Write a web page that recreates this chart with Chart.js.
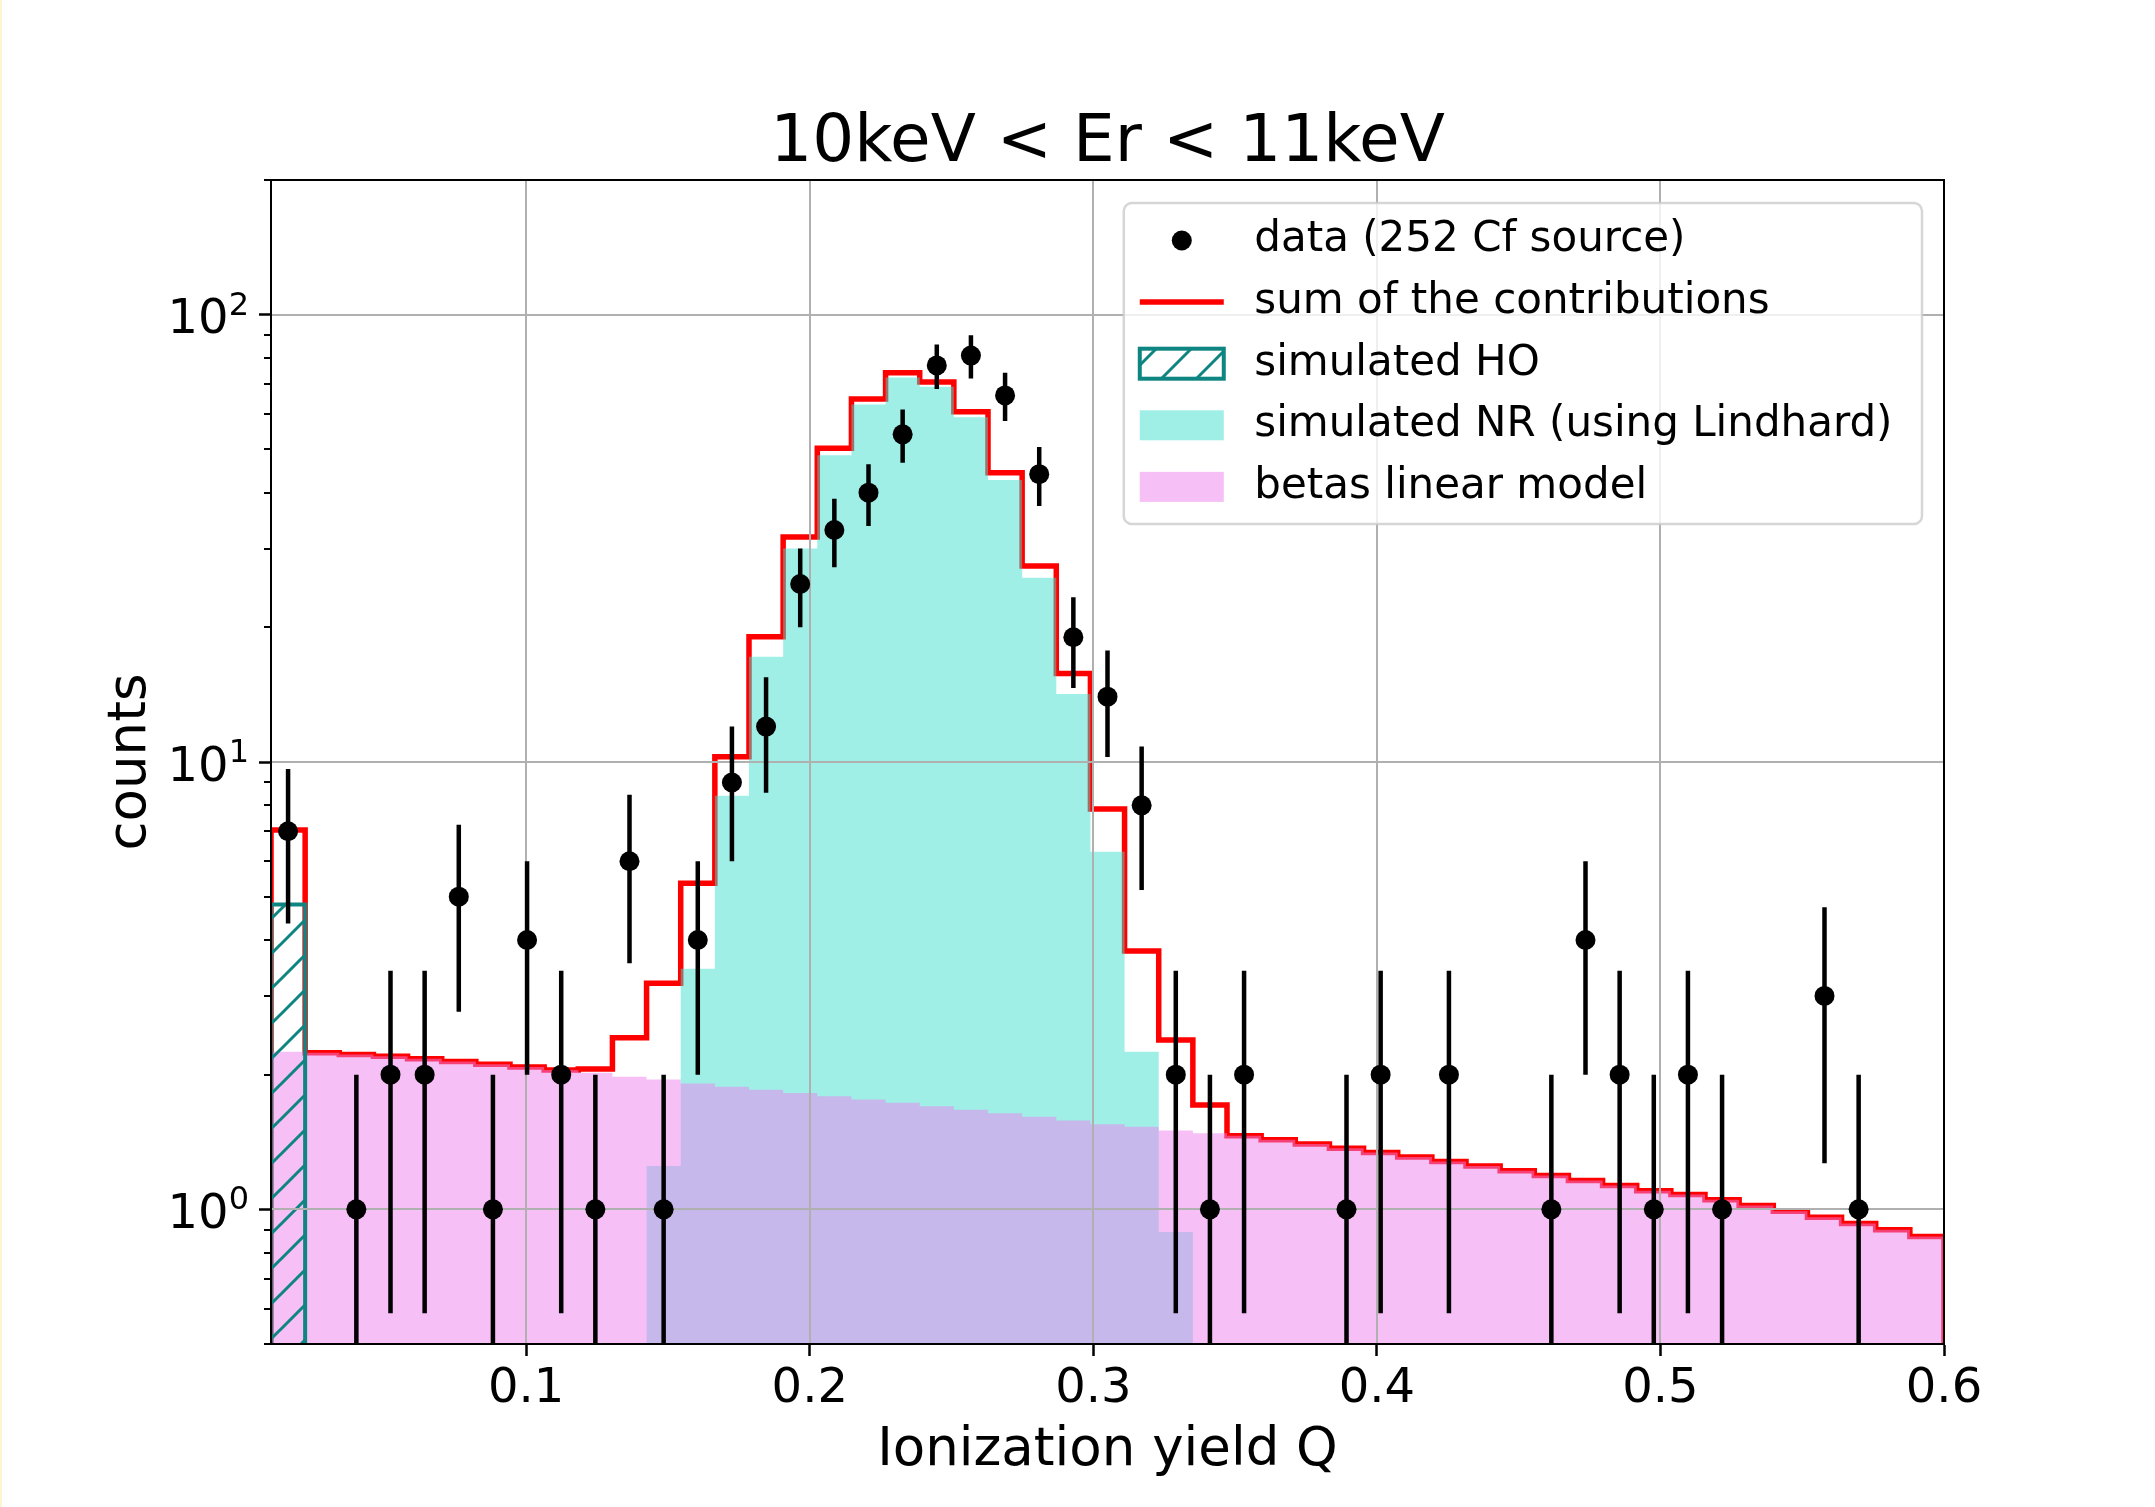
<!DOCTYPE html>
<html>
<head>
<meta charset="utf-8">
<title>10keV &lt; Er &lt; 11keV</title>
<script src="https://cdn.jsdelivr.net/npm/chart.js@4.4.0/dist/chart.umd.min.js"></script>
<style>
  html, body { margin: 0; padding: 0; background: #fff; }
  #wrap { position: relative; width: 2155px; height: 1507px; }
  #edge { position: absolute; left: 0; top: 0; width: 2px; height: 100%; background: #fcf5d2; }
</style>
</head>
<body>
<div id="wrap">
  <canvas id="chart" width="2155" height="1507"></canvas>
  <div id="edge"></div>
</div>
<script>
// binning of the ionization yield histogram
const Q_MIN = 0.01;
const Q_MAX = 0.6;
const N_BINS = 49;
const Y_MIN = 0.5;
const Y_MAX = 200;

const xTicks = [0.1, 0.2, 0.3, 0.4, 0.5, 0.6];
const yTicks = [1, 10, 100];
const yTickBase = '10';
const yTickExps = ['0', '1', '2'];

// counts per bin, 252Cf run, 10 < Er < 11 keV
const dataCounts = [
    7, 0, 1, 2, 2, 5, 1, 4, 2, 1,
    6, 1, 4, 9, 12, 25, 33, 40, 54, 77,
    81, 66, 44, 19, 14, 8, 2, 1, 2, 0,
    0, 1, 2, 0, 2, 0, 0, 1, 4, 2,
    1, 2, 1, 0, 0, 3, 1, 0, 0
];

// heat-only events (first bin only)
const hoModel = [
    4.8, 0, 0, 0, 0, 0, 0, 0, 0, 0,
    0, 0, 0, 0, 0, 0, 0, 0, 0, 0,
    0, 0, 0, 0, 0, 0, 0, 0, 0, 0,
    0, 0, 0, 0, 0, 0, 0, 0, 0, 0,
    0, 0, 0, 0, 0, 0, 0, 0, 0
];

// nuclear recoils, Lindhard quenching
const nrModel = [
    0, 0, 0, 0, 0, 0, 0, 0, 0, 0.04,
    0.44, 1.25, 3.45, 8.4, 17.2, 30.0, 48.5, 63.0, 72.4, 69.0,
    59.0, 42.7, 25.8, 14.2, 6.3, 2.25, 0.89, 0.23, 0, 0,
    0, 0, 0, 0, 0, 0, 0, 0, 0, 0,
    0, 0, 0, 0, 0, 0, 0, 0, 0
];

// beta background, linear model
const betaModel = [
    2.25, 2.24, 2.22, 2.20, 2.17, 2.14, 2.11, 2.08, 2.05, 2.02,
    1.98, 1.95, 1.91, 1.88, 1.85, 1.82, 1.79, 1.76, 1.73, 1.70,
    1.67, 1.64, 1.61, 1.58, 1.55, 1.53, 1.50, 1.48, 1.46, 1.43,
    1.40, 1.37, 1.34, 1.31, 1.28, 1.25, 1.22, 1.19, 1.16, 1.13,
    1.10, 1.08, 1.05, 1.02, 0.99, 0.96, 0.93, 0.90, 0.87
];

const TEAL = '#0f8582';
const RED = '#ff0000';
const NR_FILL = 'rgba(64, 224, 208, 0.5)';
const BETA_FILL = 'rgba(238, 130, 238, 0.5)';
const GRID = '#b0b0b0';
const FONT = "'DejaVu Sans'";

const binWidth = (Q_MAX - Q_MIN) / N_BINS;
const edges = [];
for (let i = 0; i <= N_BINS; i++) {
    edges.push(Q_MIN + i * binWidth);
}

const sumModel = betaModel.map(function (b, i) {
    return b + nrModel[i] + hoModel[i];
});

// step outline of a histogram, dropping to the axis floor at both ends
function histPoints(values) {
    let first = values.findIndex(v => v > 0);
    let last = values.length - 1;
    while (last > first && !(values[last] > 0)) last--;
    let pts = [{ x: edges[first], y: Y_MIN }];
    for (let i = first; i <= last; i++) {
        pts.push({ x: edges[i], y: values[i] > 0 ? values[i] : Y_MIN });
    }
    pts.push({ x: edges[last + 1], y: values[last] });
    pts.push({ x: edges[last + 1], y: Y_MIN });
    return pts;
}

let dataPoints = [];
dataCounts.forEach(function (c, i) {
    if (c > 0) dataPoints.push({ x: (edges[i] + edges[i + 1]) / 2, y: c });
});

// '/' hatching for the HO histogram
const hatch = (function () {
    const size = 35;
    const c = document.createElement('canvas');
    c.width = size;
    c.height = size;
    const g = c.getContext('2d');
    g.strokeStyle = TEAL;
    g.lineWidth = 3;
    g.beginPath();
    g.moveTo(-2, size + 2); g.lineTo(size + 2, -2);
    g.moveTo(-2, 2); g.lineTo(2, -2);
    g.moveTo(size - 2, size + 2); g.lineTo(size + 2, size - 2);
    g.stroke();
    return g.createPattern(c, 'repeat');
})();

const DATA_LABEL = 'data (252 Cf source)';
const legendItems = [
    { kind: 'dot', text: DATA_LABEL },
    { kind: 'line', text: 'sum of the contributions' },
    { kind: 'hatch', text: 'simulated HO' },
    { kind: 'nr', text: 'simulated NR (using Lindhard)' },
    { kind: 'beta', text: 'betas linear model' }
];

// gridlines sit above the filled histograms, error bars under the markers
const gridAndErrors = {
    id: 'gridAndErrors',
    beforeDatasetDraw(chart, args) {
        if (chart.data.datasets[args.index].label !== DATA_LABEL) return;
        const ctx = chart.ctx;
        const area = chart.chartArea;
        const xs = chart.scales.x;
        const ys = chart.scales.y;
        ctx.save();
        ctx.beginPath();
        ctx.rect(area.left, area.top, area.right - area.left, area.bottom - area.top);
        ctx.clip();

        ctx.strokeStyle = GRID;
        ctx.lineWidth = 2;
        ctx.beginPath();
        xTicks.forEach(function (v) {
            const px = Math.round(xs.getPixelForValue(v));
            ctx.moveTo(px, area.top);
            ctx.lineTo(px, area.bottom);
        });
        yTicks.forEach(function (v) {
            const py = Math.round(ys.getPixelForValue(v));
            ctx.moveTo(area.left, py);
            ctx.lineTo(area.right, py);
        });
        ctx.stroke();

        ctx.strokeStyle = '#000';
        ctx.lineWidth = 4.5;
        ctx.beginPath();
        dataPoints.forEach(function (p) {
            const err = Math.sqrt(p.y);
            const px = xs.getPixelForValue(p.x);
            const lo = p.y - err;
            const yLo = lo > 0 ? ys.getPixelForValue(lo) : area.bottom + 10;
            const yHi = ys.getPixelForValue(p.y + err);
            ctx.moveTo(px, yLo);
            ctx.lineTo(px, yHi);
        });
        ctx.stroke();
        ctx.restore();
    },
    afterDatasetsDraw(chart) {
        const ctx = chart.ctx;
        const area = chart.chartArea;
        const ys = chart.scales.y;
        ctx.save();
        // minor ticks on the log axis
        ctx.strokeStyle = '#000';
        ctx.lineWidth = 2;
        ctx.beginPath();
        [0.1, 1, 10, 100].forEach(function (dec) {
            for (let m = 2; m <= 9; m++) {
                const v = m * dec;
                if (v < Y_MIN - 1e-9 || v > Y_MAX + 1e-9) continue;
                const py = Math.round(ys.getPixelForValue(v));
                ctx.moveTo(area.left - 7, py);
                ctx.lineTo(area.left, py);
            }
        });
        ctx.stroke();
        // frame
        ctx.lineWidth = 2;
        ctx.strokeRect(area.left, area.top, area.right - area.left, area.bottom - area.top);

        // 10^n labels with a raised exponent
        ctx.fillStyle = '#000';
        ctx.textAlign = 'left';
        ctx.textBaseline = 'alphabetic';
        yTicks.forEach(function (v, i) {
            const py = ys.getPixelForValue(v);
            ctx.font = '48px ' + FONT;
            const wBase = ctx.measureText(yTickBase).width;
            ctx.font = '32px ' + FONT;
            const wExp = ctx.measureText(yTickExps[i]).width;
            const x0 = area.left - 22 - wBase - wExp;
            ctx.font = '48px ' + FONT;
            ctx.fillText(yTickBase, x0, py + 18.5);
            ctx.font = '32px ' + FONT;
            ctx.fillText(yTickExps[i], x0 + wBase, py);
        });
        ctx.restore();
    }
};

const boxLegend = {
    id: 'boxLegend',
    afterDraw(chart) {
        const ctx = chart.ctx;
        const area = chart.chartArea;
        ctx.save();
        ctx.font = '42px ' + FONT;
        let maxW = 0;
        legendItems.forEach(function (it) {
            maxW = Math.max(maxW, ctx.measureText(it.text).width);
        });
        const right = area.right - 22;
        const left = right - (129 + maxW + 31);
        const top = area.top + 23;
        const height = 321;

        ctx.beginPath();
        ctx.roundRect(left, top, right - left, height, 8);
        ctx.fillStyle = 'rgba(255, 255, 255, 0.8)';
        ctx.fill();
        ctx.strokeStyle = 'rgba(204, 204, 204, 0.8)';
        ctx.lineWidth = 2.5;
        ctx.stroke();

        const hx0 = left + 16;
        const hx1 = left + 100;
        legendItems.forEach(function (it, i) {
            const cy = top + 37.5 + i * 61.6;
            if (it.kind === 'dot') {
                ctx.fillStyle = '#000';
                ctx.beginPath();
                ctx.arc((hx0 + hx1) / 2, cy, 10, 0, Math.PI * 2);
                ctx.fill();
            } else if (it.kind === 'line') {
                ctx.strokeStyle = RED;
                ctx.lineWidth = 5.5;
                ctx.beginPath();
                ctx.moveTo(hx0, cy);
                ctx.lineTo(hx1, cy);
                ctx.stroke();
            } else if (it.kind === 'hatch') {
                ctx.fillStyle = hatch;
                ctx.fillRect(hx0, cy - 15, hx1 - hx0, 30);
                ctx.strokeStyle = TEAL;
                ctx.lineWidth = 4;
                ctx.strokeRect(hx0, cy - 15, hx1 - hx0, 30);
            } else {
                ctx.fillStyle = it.kind === 'nr' ? NR_FILL : BETA_FILL;
                ctx.fillRect(hx0, cy - 15, hx1 - hx0, 30);
            }
            ctx.fillStyle = '#000';
            ctx.textBaseline = 'middle';
            ctx.textAlign = 'left';
            ctx.fillText(it.text, left + 130.5, cy);
        });
        ctx.restore();
    }
};

Chart.defaults.font.family = FONT;
Chart.defaults.color = '#000';

// draw order: red sum at the bottom, then NR, betas, HO hatch, data on top
const chartData = {
    datasets: [
        {
            label: 'sum of the contributions',
            data: histPoints(sumModel),
            stepped: true,
            borderColor: RED,
            borderWidth: 5.5,
            fill: false,
            pointRadius: 0,
            order: 6
        },
        {
            label: 'simulated HO',
            data: histPoints(hoModel),
            stepped: true,
            borderColor: TEAL,
            borderWidth: 4,
            backgroundColor: hatch,
            fill: 'start',
            pointRadius: 0,
            order: 3
        },
        {
            label: 'simulated NR (using Lindhard)',
            data: histPoints(nrModel),
            stepped: true,
            borderColor: 'rgba(0,0,0,0)',
            borderWidth: 0,
            backgroundColor: NR_FILL,
            fill: 'start',
            pointRadius: 0,
            order: 5
        },
        {
            label: 'betas linear model',
            data: histPoints(betaModel),
            stepped: true,
            borderColor: 'rgba(0,0,0,0)',
            borderWidth: 0,
            backgroundColor: BETA_FILL,
            fill: 'start',
            pointRadius: 0,
            order: 4
        },
        {
            label: DATA_LABEL,
            data: dataPoints,
            showLine: false,
            pointRadius: 10,
            pointBackgroundColor: '#000',
            pointBorderColor: '#000',
            pointBorderWidth: 0,
            order: 1
        }
    ]
};

const ctx = document.getElementById('chart');

const chart = new Chart(ctx, {
    type: 'line',
    data: chartData,
    plugins: [gridAndErrors, boxLegend],
    options: {
        responsive: false,
        devicePixelRatio: 1,
        animation: false,
        layout: { padding: { left: 0, right: 211, top: 0, bottom: 0 } },
        plugins: {
            legend: { display: false },
            tooltip: { enabled: false },
            title: {
                display: true,
                text: '10keV < Er < 11keV',
                fullSize: false,
                color: '#000',
                font: { size: 66, weight: 'normal', lineHeight: 1 },
                padding: { top: 110.5, bottom: 3.5 }
            }
        },
        scales: {
            x: {
                type: 'linear',
                min: Q_MIN,
                max: Q_MAX,
                afterBuildTicks: function (scale) {
                    scale.ticks = xTicks.map(v => ({ value: v }));
                },
                afterFit: function (scale) {
                    scale.height = 163;
                },
                ticks: {
                    autoSkip: false,
                    maxRotation: 0,
                    padding: 4.5,
                    font: { size: 48 },
                    callback: function (value) {
                        return Number(value).toFixed(1);
                    }
                },
                grid: {
                    drawOnChartArea: false,
                    drawTicks: true,
                    tickLength: 12,
                    tickWidth: 2.5,
                    tickColor: '#000'
                },
                border: { color: '#000', width: 2 },
                title: {
                    display: true,
                    text: 'Ionization yield Q',
                    font: { size: 53 },
                    padding: { top: 0, bottom: 24 }
                }
            },
            y: {
                type: 'logarithmic',
                min: Y_MIN,
                max: Y_MAX,
                afterBuildTicks: function (scale) {
                    scale.ticks = yTicks.map(v => ({ value: v, major: true }));
                },
                afterFit: function (scale) {
                    scale.width = 271;
                },
                ticks: {
                    display: false,
                    autoSkip: false
                },
                grid: {
                    drawOnChartArea: false,
                    drawTicks: true,
                    tickLength: 12,
                    tickWidth: 2.5,
                    tickColor: '#000'
                },
                border: { color: '#000', width: 2 },
                title: {
                    display: true,
                    text: 'counts',
                    font: { size: 53 },
                    padding: { top: 99, bottom: 0 }
                }
            }
        }
    }
});
</script>
</body>
</html>
